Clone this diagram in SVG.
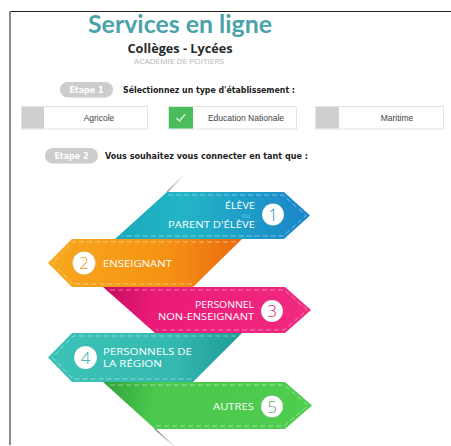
<svg xmlns="http://www.w3.org/2000/svg" width="451" height="446" viewBox="0 0 451 446">
<defs>
<style>
.pill{fill:#cdcdcd}
.pilltxt{font-family:"DejaVu Sans",sans-serif;font-weight:bold;font-size:8px;fill:#ffffff;text-anchor:middle}
.step{font-family:"DejaVu Sans",sans-serif;font-weight:bold;font-size:8px;fill:#222222}
.btn{fill:#ffffff;stroke:#e3e3e3;stroke-width:1}
.btnsq{fill:#cfcfcf}
.btntxt{font-family:"Liberation Sans",Arial,sans-serif;font-size:8.5px;fill:#444444;text-anchor:middle}
.rt{font-family:"Open Sans","DejaVu Sans",sans-serif;font-size:9.5px;fill:#ffffff}
.stitch{fill:none;stroke:#ffffff;stroke-opacity:0.55;stroke-width:0.8;stroke-dasharray:5 3}
.circ{fill:#ffffff;stroke:#000000;stroke-opacity:0.08;stroke-width:1}
.num{font-family:"Open Sans","DejaVu Sans",sans-serif;font-weight:300;font-size:17px;text-anchor:middle}
.fold{stroke-width:1.6;fill:none}
</style>
<linearGradient id="g1" x1="115" y1="0" x2="310" y2="0" gradientUnits="userSpaceOnUse">
<stop offset="0" stop-color="#1aa9bd"/><stop offset="0.35" stop-color="#22b5c5"/><stop offset="1" stop-color="#1a84cb"/>
</linearGradient>
<linearGradient id="g2" x1="48" y1="0" x2="242" y2="0" gradientUnits="userSpaceOnUse">
<stop offset="0" stop-color="#f8a81d"/><stop offset="0.6" stop-color="#f59314"/><stop offset="1" stop-color="#ec6a10"/>
</linearGradient>
<linearGradient id="g3" x1="103" y1="287" x2="312" y2="320" gradientUnits="userSpaceOnUse">
<stop offset="0" stop-color="#c60d5e"/><stop offset="0.25" stop-color="#ea1a78"/><stop offset="1" stop-color="#f22a80"/>
</linearGradient>
<linearGradient id="g4" x1="48" y1="0" x2="242" y2="0" gradientUnits="userSpaceOnUse">
<stop offset="0" stop-color="#3cc3b6"/><stop offset="0.65" stop-color="#34b9b0"/><stop offset="1" stop-color="#1f9a95"/>
</linearGradient>
<linearGradient id="g5" x1="103" y1="382" x2="312" y2="415" gradientUnits="userSpaceOnUse">
<stop offset="0" stop-color="#2fa23c"/><stop offset="0.25" stop-color="#4bc84d"/><stop offset="1" stop-color="#4fcd4f"/>
</linearGradient>
<linearGradient id="gf1" x1="167" y1="192" x2="184" y2="175" gradientUnits="userSpaceOnUse">
<stop offset="0" stop-color="#888888" stop-opacity="0.8"/><stop offset="1" stop-color="#888888" stop-opacity="0"/>
</linearGradient>
<linearGradient id="gf2" x1="155" y1="429" x2="174" y2="446" gradientUnits="userSpaceOnUse">
<stop offset="0" stop-color="#777777" stop-opacity="0.9"/><stop offset="1" stop-color="#777777" stop-opacity="0.1"/>
</linearGradient>
</defs>
<rect width="451" height="446" fill="#ffffff"/>
<g id="frame">
<line x1="10" y1="11.5" x2="451" y2="11.5" stroke="#222222" stroke-width="1"/>
<line x1="10" y1="11" x2="10" y2="445" stroke="#8a8a8a" stroke-width="2"/>
</g>
<g id="header">
<text x="180" y="33" text-anchor="middle" font-family="Lato,'Open Sans',sans-serif" font-weight="bold" font-size="25" fill="#4aa3aa" textLength="184" lengthAdjust="spacingAndGlyphs">Services en ligne</text>
<text x="180" y="53" text-anchor="middle" font-family="'Open Sans',sans-serif" font-weight="bold" font-size="13" fill="#2a2a2a" textLength="105" lengthAdjust="spacingAndGlyphs">Collèges - Lycées</text>
<text x="179" y="63.5" text-anchor="middle" font-family="'Open Sans',sans-serif" font-size="6.5" fill="#b5b5b5" textLength="90" lengthAdjust="spacingAndGlyphs">ACADÉMIE DE POITIERS</text>
</g>
<g id="step1">
<rect class="pill" x="60" y="82" width="53" height="15.5" rx="7.75"/>
<text class="pilltxt" x="86.5" y="93">Etape 1</text>
<text class="step" x="123" y="93" textLength="172" lengthAdjust="spacingAndGlyphs">Sélectionnez un type d'établissement :</text>
</g>
<g id="btn-agricole">
<rect class="btn" x="21.5" y="106.5" width="126" height="22.5"/>
<rect class="btnsq" x="22" y="107" width="22" height="21.5"/>
<text class="btntxt" x="99" y="120.5">Agricole</text>
</g>
<g id="btn-education">
<rect class="btn" x="168.5" y="106.5" width="128" height="22.5"/>
<rect x="169" y="107" width="24" height="21.5" fill="#4bbd5c"/>
<path d="M176.5 118 L179.5 121 L185 114.5" fill="none" stroke="#ffffff" stroke-width="1.4" stroke-opacity="0.8"/>
<text class="btntxt" x="246" y="120.5">Education Nationale</text>
</g>
<g id="btn-maritime">
<rect class="btn" x="315.5" y="106.5" width="128" height="22.5"/>
<rect class="btnsq" x="316" y="107" width="23" height="21.5"/>
<text class="btntxt" x="397" y="120.5">Maritime</text>
</g>
<g id="step2">
<rect class="pill" x="45" y="148" width="53" height="15.5" rx="7.75"/>
<text class="pilltxt" x="71.5" y="159">Etape 2</text>
<text class="step" x="105" y="159" textLength="203" lengthAdjust="spacingAndGlyphs">Vous souhaitez vous connecter en tant que :</text>
</g>
<g id="fold-lines">
<path class="fold" d="M167 192 L184 175" stroke="url(#gf1)"/>
<path class="fold" d="M155 429 L174 446" stroke="url(#gf2)"/>
</g>
<g id="ribbon-5">
<polygon points="103,382 285,382 312,405.5 285,429 155,429" fill="url(#g5)"/>
<path class="stitch" d="M110 385 L284 385 L308 405.5 L284 426 L156 426"/>
<circle class="circ" cx="272" cy="406.5" r="11"/>
<text class="num" x="272" y="412.5" fill="#6aa06a">5</text>
<text class="rt" x="254" y="410" text-anchor="end" textLength="41" lengthAdjust="spacingAndGlyphs">AUTRES</text>
</g>
<g id="ribbon-4">
<polygon points="72,333 242,333 193,382 72,382 48,357.5" fill="url(#g4)"/>
<path class="stitch" d="M236 336 L73 336 L52.5 357.5 L73 379 L192 379"/>
<circle class="circ" cx="85.5" cy="357.5" r="11.5"/>
<text class="num" x="85.5" y="363.5" fill="#3aa9a5">4</text>
<text class="rt" x="103" y="355" textLength="89" lengthAdjust="spacingAndGlyphs">PERSONNELS DE</text>
<text class="rt" x="103" y="366.5" textLength="59" lengthAdjust="spacingAndGlyphs">LA RÉGION</text>
</g>
<g id="ribbon-3">
<polygon points="103,287 285,287 311,310 285,333 155,333" fill="url(#g3)"/>
<path class="stitch" d="M110 290 L284 290 L307 310 L284 330 L156 330"/>
<circle class="circ" cx="272" cy="311" r="11"/>
<text class="num" x="272" y="317" fill="#d8226f">3</text>
<text class="rt" x="254" y="308" text-anchor="end" textLength="59" lengthAdjust="spacingAndGlyphs">PERSONNEL</text>
<text class="rt" x="254" y="319.5" text-anchor="end" textLength="96" lengthAdjust="spacingAndGlyphs">NON-ENSEIGNANT</text>
</g>
<g id="ribbon-2">
<polygon points="72,239 242,239 193,287 72,287 48,263" fill="url(#g2)"/>
<path class="stitch" d="M236 242 L73 242 L52.5 263 L73 284 L192 284"/>
<circle class="circ" cx="84" cy="263" r="11.5"/>
<text class="num" x="84" y="269" fill="#f0961c">2</text>
<text class="rt" x="103" y="267" textLength="69" lengthAdjust="spacingAndGlyphs">ENSEIGNANT</text>
</g>
<g id="ribbon-1">
<polygon points="167,192 284,192 310,215.5 284,239 115,239" fill="url(#g1)"/>
<path class="stitch" d="M168 195 L283 195 L306 215.5 L283 236 L122 236"/>
<circle class="circ" cx="273" cy="214.5" r="11"/>
<text class="num" x="273" y="220.5" fill="#2a8fc2">1</text>
<text class="rt" x="255" y="209" text-anchor="end" textLength="30" lengthAdjust="spacingAndGlyphs">ÉLÈVE</text>
<text x="246" y="217.5" text-anchor="middle" font-family="'Open Sans',sans-serif" font-size="7" fill="#55d0f2">ou</text>
<text class="rt" x="255" y="228" text-anchor="end" textLength="87" lengthAdjust="spacingAndGlyphs">PARENT D'ÉLÈVE</text>
</g>
</svg>
